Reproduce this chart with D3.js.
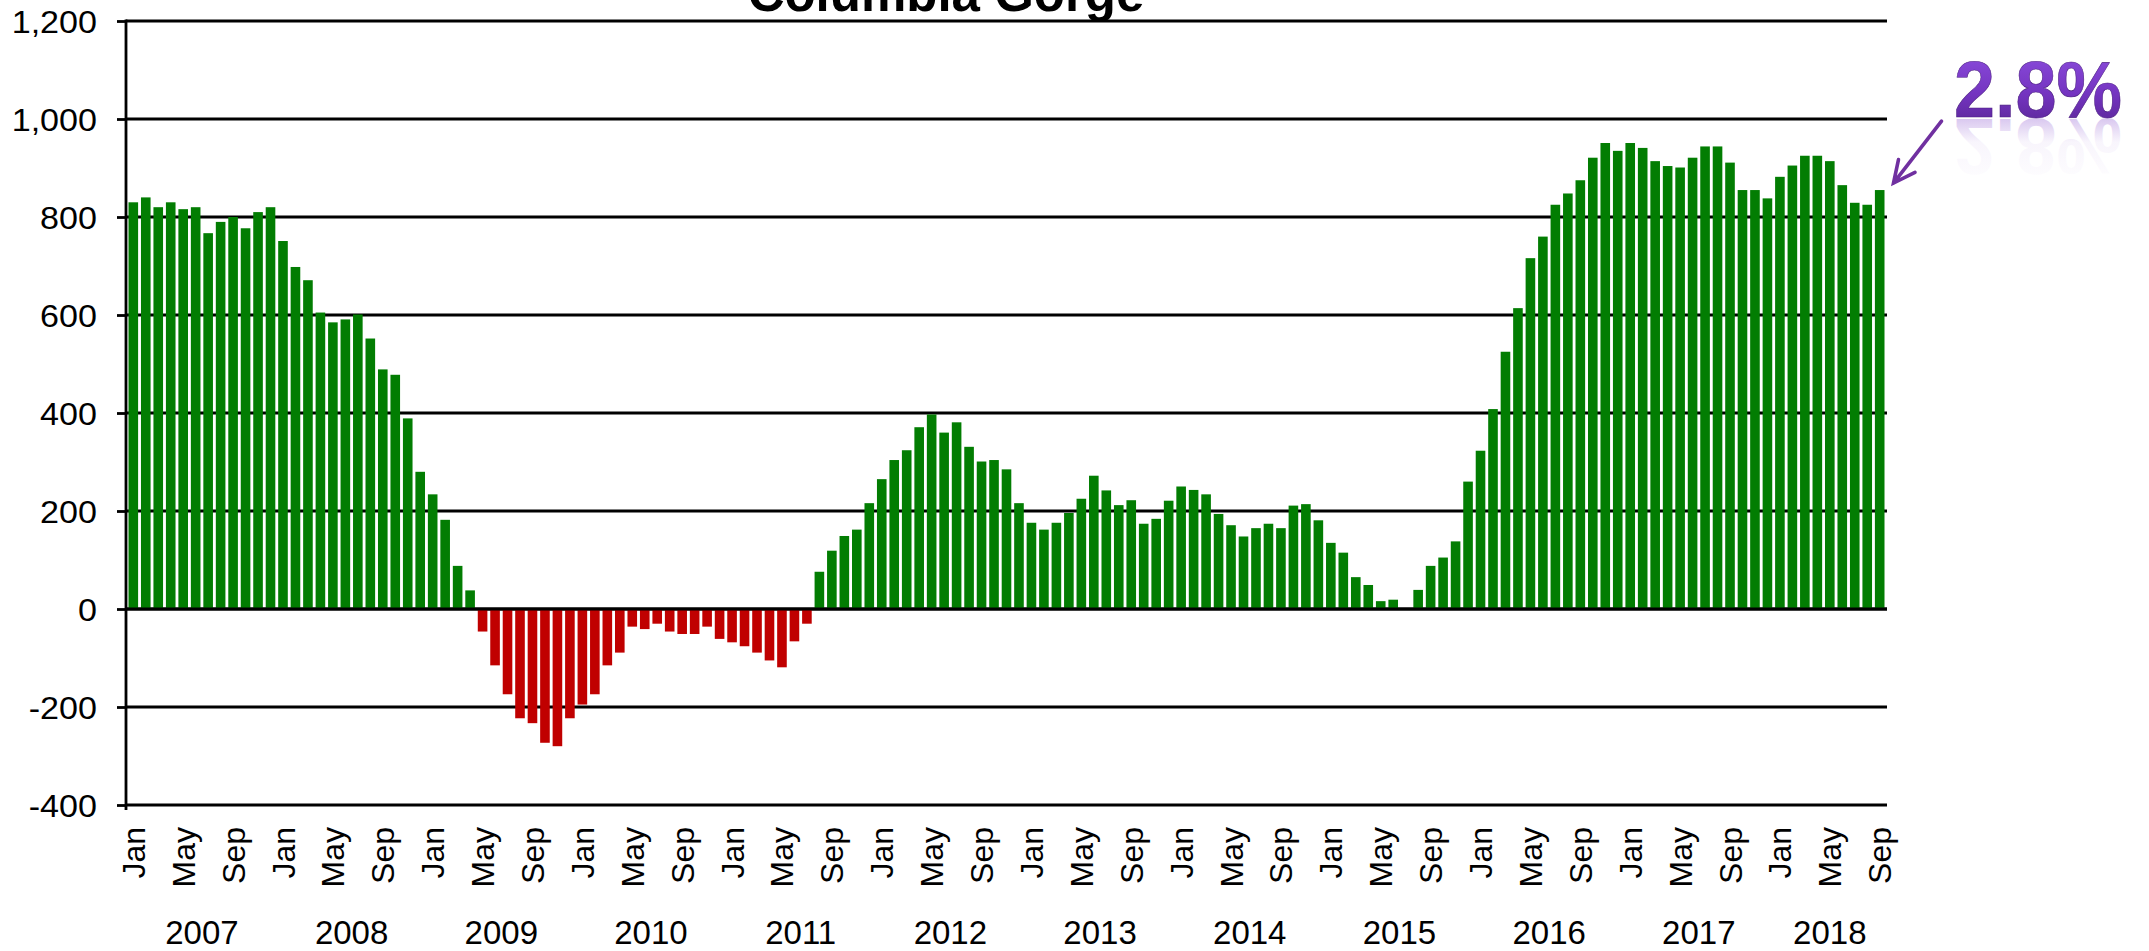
<!DOCTYPE html>
<html>
<head>
<meta charset="utf-8">
<script src="https://cdn.jsdelivr.net/npm/d3@7"></script>
<style>
body { margin: 0; background: #fff; }
text { font-family: "Liberation Sans", Arial, sans-serif; }
</style>
</head>
<body>
<div id="chart"></div>
<script>
const years = [2007, 2008, 2009, 2010, 2011, 2012, 2013, 2014, 2015, 2016, 2017, 2018]
const monthNames = ["Jan", "Feb", "Mar", "Apr", "May", "Jun", "Jul", "Aug", "Sep", "Oct", "Nov", "Dec"]

// monthly values, Jan 2007 .. Sep 2018
const values = [
    830, 840, 820, 830, 816, 820, 767, 790, 800, 777, 810, 820,
    751, 698, 671, 605, 585, 591, 601, 552, 489, 478, 389, 280,
    234, 182, 88, 38, -46, -115, -174, -223, -233, -273, -280, -223,
    -195, -174, -115, -89, -36, -41, -30, -46, -51, -51, -36, -61,
    -68, -76, -89, -105, -119, -66, -30, 76, 119, 149, 162, 216,
    265, 304, 324, 371, 397, 360, 381, 331, 301, 304, 285, 216,
    176, 162, 176, 196, 225, 272, 242, 212, 222, 174, 184, 221,
    250, 243, 234, 194, 171, 148, 165, 174, 165, 211, 214, 181,
    135, 115, 65, 49, 16, 19, -2, 39, 88, 105, 138, 260,
    323, 408, 525, 614, 716, 760, 825, 848, 875, 921, 951, 935,
    951, 941, 914, 904, 901, 921, 944, 944, 911, 855, 855, 838,
    882, 905, 925, 925, 914, 865, 829, 825, 855
]
const yTicks = [-400, -200, 0, 200, 400, 600, 800, 1000, 1200]
const title = "Columbia Gorge"
const callout = "2.8%"

const width = 2149, height = 951
const plot = {left: 126, right: 1887, top: 21, bottom: 805}

const cats = values.map((v, i) => ({
    i: i, value: v,
    year: years[Math.floor(i / 12)],
    month: monthNames[i % 12]
}))

const x = d3.scaleBand()
    .domain(cats.map(d => d.i))
    .range([plot.left, plot.right])
    .paddingInner(0.23)
    .paddingOuter(0.2)

const y = d3.scaleLinear()
    .domain([-400, 1200])
    .range([plot.bottom, plot.top])

const svg = d3.select("#chart").append("svg")
    .attr("width", width)
    .attr("height", height)
    .attr("viewBox", "0 0 " + width + " " + height)

svg.append("rect").attr("width", width).attr("height", height).attr("fill", "#fff")

const defs = svg.append("defs")
const grad = defs.append("linearGradient").attr("id", "purple")
    .attr("x1", 0).attr("x2", 0).attr("y1", 0).attr("y2", 1)
grad.append("stop").attr("offset", 0).attr("stop-color", "#8e4fe0")
grad.append("stop").attr("offset", 0.55).attr("stop-color", "#7434c0")
grad.append("stop").attr("offset", 1).attr("stop-color", "#55248f")
const refl = defs.append("linearGradient").attr("id", "purpleRefl")
    .attr("x1", 0).attr("x2", 0).attr("y1", 0).attr("y2", 1)
refl.append("stop").attr("offset", 0).attr("stop-color", "#7a3cc8").attr("stop-opacity", 0)
refl.append("stop").attr("offset", 0.55).attr("stop-color", "#7a3cc8").attr("stop-opacity", 0.05)
refl.append("stop").attr("offset", 1).attr("stop-color", "#7a3cc8").attr("stop-opacity", 0.45)

// gridlines
svg.append("g").selectAll("line").data(yTicks).join("line")
    .attr("x1", plot.left).attr("x2", plot.right)
    .attr("y1", d => y(d)).attr("y2", d => y(d))
    .attr("stroke", "#000").attr("stroke-width", 2.8)

// bars
svg.append("g").selectAll("rect").data(cats).join("rect")
    .attr("x", d => x(d.i))
    .attr("width", x.bandwidth())
    .attr("y", d => y(Math.max(0, d.value)))
    .attr("height", d => Math.abs(y(d.value) - y(0)))
    .attr("fill", d => d.value < -5 ? "#c00000" : "#027d02")

// zero line over the bars
svg.append("line")
    .attr("x1", plot.left).attr("x2", plot.right)
    .attr("y1", y(0)).attr("y2", y(0))
    .attr("stroke", "#000").attr("stroke-width", 2.8)

// y axis
const yAxis = svg.append("g")
    .attr("transform", "translate(" + plot.left + ",0)")
    .call(d3.axisLeft(y).tickValues(yTicks).tickSize(9).tickPadding(20)
        .tickFormat(d => d3.format(",")(d).replace("\u2212", "-")))
yAxis.select(".domain").remove()
yAxis.selectAll(".tick line").attr("stroke", "#000").attr("stroke-width", 2.8)
yAxis.selectAll(".tick text")
    .attr("font-size", "31px")
    .attr("font-family", "'Liberation Sans', Arial, sans-serif")
    .attr("fill", "#000")
    .attr("dy", "0.36em")
    .each(function () {
        const w = this.getComputedTextLength()
        d3.select(this).attr("textLength", w * 1.1).attr("lengthAdjust", "spacingAndGlyphs")
    })

svg.append("line")
    .attr("x1", plot.left).attr("x2", plot.left)
    .attr("y1", plot.top - 1.4).attr("y2", plot.bottom + 5)
    .attr("stroke", "#000").attr("stroke-width", 2.8)

// month labels (every 4th month)
svg.append("g").selectAll("text").data(cats.filter(d => d.i % 4 == 0)).join("text")
    .attr("transform", d => "translate(" + (x(d.i) + x.bandwidth() / 2) + ",827) rotate(-90)")
    .attr("text-anchor", "end")
    .attr("dy", "0.36em")
    .attr("font-size", "32px")
    .attr("fill", "#000")
    .text(d => d.month)

// year labels
svg.append("g").selectAll("text").data(years).join("text")
    .attr("x", yr => {
        const idx = cats.filter(d => d.year == yr).map(d => d.i)
        return (x(d3.min(idx)) + x(d3.max(idx)) + x.bandwidth()) / 2
    })
    .attr("y", 944)
    .attr("text-anchor", "middle")
    .attr("font-size", "33px")
    .attr("fill", "#000")
    .text(d => d)

// title (cut off at the top, as in the source)
svg.append("text")
    .attr("x", 946).attr("y", 10.5)
    .attr("text-anchor", "middle")
    .attr("font-size", "51px")
    .attr("font-weight", "bold")
    .attr("fill", "#000")
    .text(title)

// callout
const last = cats[cats.length - 1]
const tip = [x(last.i) + x.bandwidth() + 9, y(last.value) - 7]
const tail = [tip[0] + 48, tip[1] - 62]
const ang = Math.atan2(tip[1] - tail[1], tip[0] - tail[0])
const headLen = 24
const arm = a => [tip[0] - headLen * Math.cos(ang + a), tip[1] - headLen * Math.sin(ang + a)]
const a1 = arm(0.45), a2 = arm(-0.45)
svg.append("path")
    .attr("d", "M" + tail + "L" + tip + "M" + a1 + "L" + tip + "L" + a2)
    .attr("fill", "none")
    .attr("stroke", "#7030a0")
    .attr("stroke-width", 3.6)
    .attr("stroke-linecap", "round")

const calloutBase = 117
svg.append("text")
    .attr("x", 1954).attr("y", calloutBase)
    .attr("transform", "translate(0," + (2 * calloutBase + 2) + ") scale(1,-1)")
    .attr("font-family", "Lato, 'Open Sans', sans-serif")
    .attr("font-weight", "bold")
    .attr("font-size", "80px")
    .attr("textLength", 168).attr("lengthAdjust", "spacingAndGlyphs")
    .attr("fill", "url(#purpleRefl)")
    .text(callout)
svg.append("text")
    .attr("x", 1954).attr("y", calloutBase)
    .attr("font-family", "Lato, 'Open Sans', sans-serif")
    .attr("font-weight", "bold")
    .attr("font-size", "80px")
    .attr("textLength", 168).attr("lengthAdjust", "spacingAndGlyphs")
    .attr("fill", "url(#purple)")
    .attr("stroke", "#4a1d80").attr("stroke-width", 0.6)
    .text(callout)
</script>
</body>
</html>
